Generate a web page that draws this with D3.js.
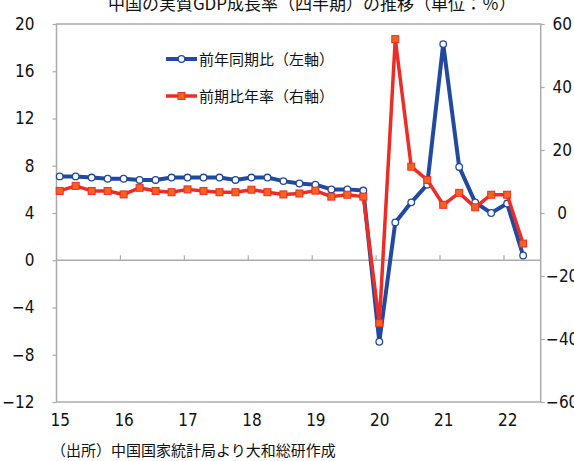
<!DOCTYPE html>
<html>
<head>
<meta charset="utf-8">
<script src="https://cdn.jsdelivr.net/npm/d3@7"></script>
<style>
  html, body { margin: 0; padding: 0; background: #fff; }
  svg { display: block; }
  .num { font-family: "Liberation Sans Narrow", "Arial Narrow", "DejaVu Sans Condensed", sans-serif; font-size: 17px; fill: #111; }
  .jp { font-family: "Noto Sans CJK JP", "Noto Sans", sans-serif; fill: #111; }
</style>
</head>
<body>
<svg id="chart" width="574" height="461"></svg>
<script>
// Quarters 2015Q1 – 2022Q2
const quarters = [
  "2015Q1","2015Q2","2015Q3","2015Q4",
  "2016Q1","2016Q2","2016Q3","2016Q4",
  "2017Q1","2017Q2","2017Q3","2017Q4",
  "2018Q1","2018Q2","2018Q3","2018Q4",
  "2019Q1","2019Q2","2019Q3","2019Q4",
  "2020Q1","2020Q2","2020Q3","2020Q4",
  "2021Q1","2021Q2","2021Q3","2021Q4",
  "2022Q1","2022Q2"
];
// 前年同期比（%、左軸）
const yoyGrowth = [
  7.1, 7.1, 7.0, 6.9,
  6.9, 6.8, 6.8, 7.0,
  7.0, 7.0, 7.0, 6.8,
  7.0, 7.0, 6.7, 6.5,
  6.4, 6.0, 6.0, 5.9,
  -6.9, 3.2, 4.9, 6.4,
  18.3, 7.9, 4.9, 4.0,
  4.8, 0.4
];
// 前期比年率（%、右軸）
const qoqAnnualized = [
  7.0, 8.6, 7.0, 7.0,
  5.9, 8.0, 7.0, 6.6,
  7.5, 7.0, 6.6, 6.6,
  7.4, 6.6, 5.9, 6.2,
  7.1, 5.2, 5.8, 5.2,
  -35.0, 55.2, 14.7, 10.5,
  2.6, 6.4, 1.8, 5.8,
  5.8, -9.7
];
const yearLabels = ["15", "16", "17", "18", "19", "20", "21", "22"];
const leftTicks = [-12, -8, -4, 0, 4, 8, 12, 16, 20];
const rightTicks = [-60, -40, -20, 0, 20, 40, 60];
const titleText = "中国の実質GDP成長率（四半期）の推移（単位：％）";
const sourceText = "（出所）中国国家統計局より大和総研作成";
const legendItems = ["前年同期比（左軸）", "前期比年率（右軸）"];

const svg = d3.select("#chart");
const plot = { left: 56.5, right: 540.7, top: 24, bottom: 402 };
const blue = "#2149a0";
const red = "#ee2b24";
const markerFill = "#f3641f";
const frameColor = "#ababab";

const x = d3.scaleLinear().domain([-0.2, 30.1]).range([plot.left, plot.right]);
const yL = d3.scaleLinear().domain([-12, 20]).range([plot.bottom, plot.top]);
const yR = d3.scaleLinear().domain([-60, 60]).range([plot.bottom, plot.top]);
const fmt = d3.format("d");

// Title (runs off the top edge of the canvas)
svg.append("text").attr("class", "jp")
  .attr("x", 312).attr("y", 10)
  .attr("text-anchor", "middle")
  .style("font-size", "17px")
  .text(titleText);

// Plot frame
svg.append("rect")
  .attr("x", plot.left).attr("y", plot.top)
  .attr("width", plot.right - plot.left).attr("height", plot.bottom - plot.top)
  .attr("fill", "none").attr("stroke", frameColor).attr("stroke-width", 1.5);

// Left axis
const gL = svg.append("g").attr("transform", `translate(${plot.left},0)`)
  .call(d3.axisLeft(yL).tickValues(leftTicks).tickFormat(fmt).tickSize(4).tickPadding(18));
gL.select(".domain").remove();
gL.selectAll(".tick line").attr("stroke", frameColor).attr("stroke-width", 1.2);
gL.selectAll(".tick text").attr("class", "num").attr("fill", null);

// Right axis (labels centred in the right margin)
const gR = svg.append("g").attr("transform", `translate(${plot.right},0)`)
  .call(d3.axisRight(yR).tickValues(rightTicks).tickFormat(fmt).tickSize(4));
gR.select(".domain").remove();
gR.selectAll(".tick line").attr("stroke", frameColor).attr("stroke-width", 1.2);
gR.selectAll(".tick text").attr("class", "num").attr("fill", null)
  .attr("text-anchor", "middle").attr("x", 21.5);

// Zero line with year ticks
svg.append("line")
  .attr("x1", plot.left).attr("x2", plot.right)
  .attr("y1", yL(0)).attr("y2", yL(0))
  .attr("stroke", frameColor).attr("stroke-width", 1.5);
svg.append("g").selectAll("line")
  .data(yearLabels.slice(1))
  .join("line")
  .attr("x1", (d, i) => x((i + 1) * 4 - 0.2))
  .attr("x2", (d, i) => x((i + 1) * 4 - 0.2))
  .attr("y1", yL(0)).attr("y2", yL(0) - 5)
  .attr("stroke", frameColor).attr("stroke-width", 1.2);

// Year labels below the frame
const gB = svg.append("g").attr("transform", `translate(0,${plot.bottom})`)
  .call(d3.axisBottom(x).tickValues(yearLabels.map((d, i) => i * 4))
    .tickFormat((d, i) => yearLabels[i]).tickSize(0).tickPadding(12));
gB.select(".domain").remove();
gB.selectAll(".tick text").attr("class", "num").attr("fill", null);

// Series lines
const lineL = d3.line().x((d, i) => x(i)).y(d => yL(d));
const lineR = d3.line().x((d, i) => x(i)).y(d => yR(d));

svg.append("path").datum(yoyGrowth)
  .attr("d", lineL).attr("fill", "none")
  .attr("stroke", blue).attr("stroke-width", 4).attr("stroke-linejoin", "round");
svg.append("g").selectAll("circle").data(yoyGrowth).join("circle")
  .attr("cx", (d, i) => x(i)).attr("cy", d => yL(d)).attr("r", 3.3)
  .attr("fill", "#fff").attr("stroke", blue).attr("stroke-width", 1.3);

svg.append("path").datum(qoqAnnualized)
  .attr("d", lineR).attr("fill", "none")
  .attr("stroke", red).attr("stroke-width", 3.5).attr("stroke-linejoin", "round");
const sq = 7;
svg.append("g").selectAll("rect").data(qoqAnnualized).join("rect")
  .attr("x", (d, i) => x(i) - sq / 2).attr("y", d => yR(d) - sq / 2)
  .attr("width", sq).attr("height", sq)
  .attr("fill", markerFill).attr("stroke", red).attr("stroke-width", 1);

// Legend
const legend = svg.append("g");
const legY = [59, 96];
legend.append("line").attr("x1", 166).attr("x2", 197).attr("y1", legY[0]).attr("y2", legY[0])
  .attr("stroke", blue).attr("stroke-width", 4);
legend.append("circle").attr("cx", 181.5).attr("cy", legY[0]).attr("r", 3.3)
  .attr("fill", "#fff").attr("stroke", blue).attr("stroke-width", 1.3);
legend.append("line").attr("x1", 166).attr("x2", 197).attr("y1", legY[1]).attr("y2", legY[1])
  .attr("stroke", red).attr("stroke-width", 3.5);
legend.append("rect").attr("x", 181.5 - sq / 2).attr("y", legY[1] - sq / 2)
  .attr("width", sq).attr("height", sq)
  .attr("fill", markerFill).attr("stroke", red).attr("stroke-width", 1);
legend.selectAll("text").data(legendItems).join("text")
  .attr("class", "jp")
  .attr("x", 199).attr("y", (d, i) => legY[i] + 5.5)
  .style("font-size", "15px")
  .text(d => d);

// Source note
svg.append("text").attr("class", "jp")
  .attr("x", 51).attr("y", 456)
  .style("font-size", "15px")
  .text(sourceText);
</script>
</body>
</html>
